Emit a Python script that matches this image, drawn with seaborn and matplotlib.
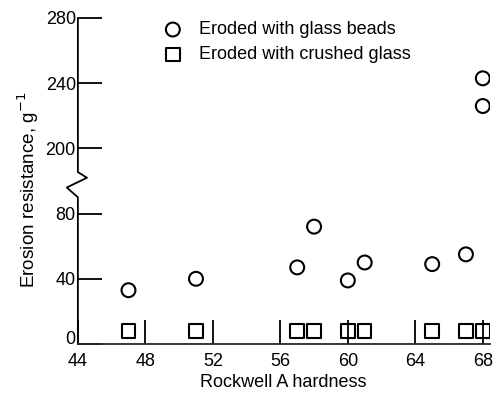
import numpy as np
import pandas as pd
import matplotlib
matplotlib.use("Agg")
import matplotlib.pyplot as plt
import seaborn as sns

# hardness values (Rockwell A) and erosion resistance
beads_hardness = [47, 51, 57, 58, 60, 61, 65, 67, 68, 68]
beads_resistance = [33, 40, 47, 72, 39, 50, 49, 55, 226, 243]
crushed_hardness = [47, 51, 57, 58, 60, 61, 65, 67, 68]
crushed_resistance = [8, 8, 8, 8, 8, 8, 8, 8, 8]

ytick_values = [0, 40, 80, 200, 240, 280]
xtick_values = [44, 48, 52, 56, 60, 64, 68]

# broken axis: everything above the break is shifted down by 80
BREAK_SHIFT = 80


def to_display(v):
    v = np.asarray(v, dtype=float)
    return np.where(v > 100, v - BREAK_SHIFT, v)


beads = pd.DataFrame({"hardness": beads_hardness,
                      "resistance": to_display(beads_resistance)})
crushed = pd.DataFrame({"hardness": crushed_hardness,
                        "resistance": to_display(crushed_resistance)})

sns.set_style("ticks")
plt.rcParams["font.family"] = ["Liberation Sans", "DejaVu Sans"]
plt.rcParams["text.color"] = "black"
plt.rcParams["axes.labelcolor"] = "black"

fig = plt.figure(figsize=(4.96, 4.0), dpi=100)
ax = fig.add_axes([0.157, 0.14, 0.83, 0.815])

sns.scatterplot(data=beads, x="hardness", y="resistance", marker="o", s=100,
                facecolor="none", edgecolor="black", linewidth=1.5,
                label="Eroded with glass beads", ax=ax)
sns.scatterplot(data=crushed, x="hardness", y="resistance", marker="s", s=95,
                facecolor="none", edgecolor="black", linewidth=1.5,
                label="Eroded with crushed glass", ax=ax)

ax.set_xlim(44, 68.4)
ax.set_ylim(0, 200)
ax.set_xticks(xtick_values)
ax.set_xticklabels([str(v) for v in xtick_values])
ax.set_yticks(to_display(ytick_values))
ax.set_yticklabels([str(v) for v in ytick_values])
ax.tick_params(direction="in", length=17, width=1.3, labelsize=13, colors="black")
ax.tick_params(axis="x", pad=6.5)
ax.tick_params(axis="y", pad=1.5)
ax.get_yticklabels()[0].set_verticalalignment("baseline")

ax.spines["top"].set_visible(False)
ax.spines["right"].set_visible(False)
ax.spines["bottom"].set_linewidth(1.3)
ax.spines["left"].set_visible(False)

# left spine with zigzag break
trans = ax.get_yaxis_transform()
zx = [0, 0, -0.027, 0.022, 0, 0]
zy = [0, 90, 96, 102, 105.5, 200]
ax.plot(zx, zy, color="black", lw=1.3, transform=trans, clip_on=False)

ax.set_xlabel("Rockwell A hardness", fontsize=13, labelpad=3)
ax.set_ylabel("Erosion resistance, g$^{-1}$", fontsize=13.6, labelpad=3)
ax.yaxis.label.set_y(0.475)

ax.legend(loc="upper left", bbox_to_anchor=(0.2, 0.99), frameon=False,
          fontsize=13, handlelength=1.4, handletextpad=0.75, labelspacing=0.45,
          borderpad=0, borderaxespad=0)

fig.savefig("out.png", dpi=100)
